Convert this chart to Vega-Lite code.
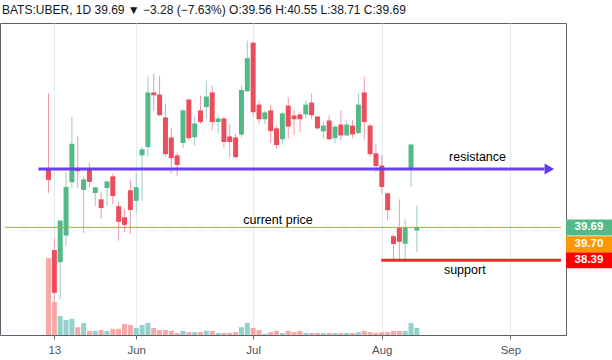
{
  "$schema": "https://vega.github.io/schema/vega-lite/v6.json",
  "width": 566,
  "height": 312,
  "autosize": {"type": "none"},
  "padding": {"left": 0, "top": 23, "right": 46, "bottom": 25},
  "background": "#ffffff",
  "title": {
    "text": "BATS:UBER, 1D  39.69 ▼ −3.28 (−7.63%)  O:39.56  H:40.55  L:38.71  C:39.69",
    "anchor": "start",
    "frame": "group",
    "fontSize": 12,
    "font": "Liberation Sans",
    "fontWeight": "normal",
    "color": "#131722",
    "offset": 6,
    "dx": 2,
    "dy": 12,
    "baseline": "bottom"
  },
  "config": {
    "view": {"stroke": "#5d606b", "strokeWidth": 1},
    "text": {"font": "Liberation Sans"}
  },
  "datasets": {
    "candles": [
      {"date": "2019-05-10", "i": 0, "open": 42.00, "high": 45.00, "low": 41.06, "close": 41.57, "volume": 186},
      {"date": "2019-05-13", "i": 1, "open": 38.79, "high": 39.24, "low": 36.08, "close": 37.10, "volume": 80},
      {"date": "2019-05-14", "i": 2, "open": 38.31, "high": 39.96, "low": 36.85, "close": 39.96, "volume": 46},
      {"date": "2019-05-15", "i": 3, "open": 39.37, "high": 41.88, "low": 38.95, "close": 41.29, "volume": 36},
      {"date": "2019-05-16", "i": 4, "open": 41.48, "high": 44.06, "low": 41.25, "close": 43.00, "volume": 39},
      {"date": "2019-05-17", "i": 5, "open": 41.98, "high": 43.29, "low": 41.27, "close": 41.91, "volume": 19},
      {"date": "2019-05-20", "i": 6, "open": 41.17, "high": 41.71, "low": 39.47, "close": 41.59, "volume": 29},
      {"date": "2019-05-21", "i": 7, "open": 41.97, "high": 42.26, "low": 41.29, "close": 41.49, "volume": 10},
      {"date": "2019-05-22", "i": 8, "open": 41.05, "high": 41.28, "low": 40.53, "close": 41.28, "volume": 10},
      {"date": "2019-05-23", "i": 9, "open": 40.80, "high": 41.10, "low": 40.03, "close": 40.46, "volume": 12},
      {"date": "2019-05-24", "i": 10, "open": 41.25, "high": 41.51, "low": 40.54, "close": 41.51, "volume": 10},
      {"date": "2019-05-28", "i": 11, "open": 41.71, "high": 41.82, "low": 40.62, "close": 40.93, "volume": 15},
      {"date": "2019-05-29", "i": 12, "open": 40.53, "high": 40.71, "low": 39.16, "close": 39.91, "volume": 15},
      {"date": "2019-05-30", "i": 13, "open": 40.09, "high": 40.41, "low": 39.51, "close": 39.79, "volume": 27},
      {"date": "2019-05-31", "i": 14, "open": 41.16, "high": 41.59, "low": 39.43, "close": 40.38, "volume": 24},
      {"date": "2019-06-03", "i": 15, "open": 40.74, "high": 41.87, "low": 40.26, "close": 41.28, "volume": 17},
      {"date": "2019-06-04", "i": 16, "open": 42.54, "high": 42.89, "low": 40.74, "close": 42.78, "volume": 24},
      {"date": "2019-06-05", "i": 17, "open": 42.87, "high": 45.66, "low": 42.50, "close": 45.03, "volume": 29},
      {"date": "2019-06-06", "i": 18, "open": 45.03, "high": 45.78, "low": 44.29, "close": 44.92, "volume": 17},
      {"date": "2019-06-07", "i": 19, "open": 44.95, "high": 45.70, "low": 44.10, "close": 44.13, "volume": 12},
      {"date": "2019-06-10", "i": 20, "open": 44.04, "high": 44.59, "low": 42.50, "close": 42.59, "volume": 12},
      {"date": "2019-06-11", "i": 21, "open": 43.25, "high": 43.64, "low": 41.84, "close": 42.43, "volume": 10},
      {"date": "2019-06-12", "i": 22, "open": 42.54, "high": 42.66, "low": 41.72, "close": 42.16, "volume": 5},
      {"date": "2019-06-13", "i": 23, "open": 43.03, "high": 44.36, "low": 42.83, "close": 44.32, "volume": 10},
      {"date": "2019-06-14", "i": 24, "open": 44.75, "high": 44.80, "low": 43.13, "close": 43.22, "volume": 7},
      {"date": "2019-06-17", "i": 25, "open": 43.26, "high": 44.08, "low": 42.93, "close": 43.80, "volume": 7},
      {"date": "2019-06-18", "i": 26, "open": 44.32, "high": 44.91, "low": 43.78, "close": 43.86, "volume": 7},
      {"date": "2019-06-19", "i": 27, "open": 44.45, "high": 45.50, "low": 43.99, "close": 44.87, "volume": 10},
      {"date": "2019-06-20", "i": 28, "open": 45.03, "high": 45.30, "low": 43.53, "close": 43.86, "volume": 10},
      {"date": "2019-06-21", "i": 29, "open": 43.86, "high": 44.16, "low": 43.42, "close": 44.00, "volume": 5},
      {"date": "2019-06-24", "i": 30, "open": 44.00, "high": 44.08, "low": 42.84, "close": 43.07, "volume": 5},
      {"date": "2019-06-25", "i": 31, "open": 43.29, "high": 43.79, "low": 42.47, "close": 43.07, "volume": 5},
      {"date": "2019-06-26", "i": 32, "open": 43.25, "high": 43.39, "low": 42.41, "close": 42.47, "volume": 7},
      {"date": "2019-06-27", "i": 33, "open": 43.36, "high": 45.30, "low": 43.24, "close": 45.13, "volume": 19},
      {"date": "2019-06-28", "i": 34, "open": 45.08, "high": 47.08, "low": 45.05, "close": 46.39, "volume": 29},
      {"date": "2019-07-01", "i": 35, "open": 47.00, "high": 47.04, "low": 44.08, "close": 44.25, "volume": 17},
      {"date": "2019-07-02", "i": 36, "open": 44.55, "high": 44.71, "low": 43.76, "close": 43.97, "volume": 12},
      {"date": "2019-07-03", "i": 37, "open": 43.97, "high": 44.32, "low": 43.79, "close": 44.24, "volume": 3},
      {"date": "2019-07-05", "i": 38, "open": 44.32, "high": 44.55, "low": 43.03, "close": 43.50, "volume": 7},
      {"date": "2019-07-08", "i": 39, "open": 43.61, "high": 43.71, "low": 42.79, "close": 42.95, "volume": 10},
      {"date": "2019-07-09", "i": 40, "open": 43.18, "high": 44.25, "low": 43.00, "close": 44.20, "volume": 5},
      {"date": "2019-07-10", "i": 41, "open": 44.51, "high": 44.84, "low": 43.20, "close": 43.68, "volume": 10},
      {"date": "2019-07-11", "i": 42, "open": 44.12, "high": 44.32, "low": 43.34, "close": 43.97, "volume": 7},
      {"date": "2019-07-12", "i": 43, "open": 44.16, "high": 44.24, "low": 43.45, "close": 43.97, "volume": 10},
      {"date": "2019-07-15", "i": 44, "open": 44.16, "high": 44.71, "low": 43.99, "close": 44.55, "volume": 5},
      {"date": "2019-07-16", "i": 45, "open": 44.63, "high": 45.00, "low": 43.97, "close": 44.13, "volume": 5},
      {"date": "2019-07-17", "i": 46, "open": 44.08, "high": 44.10, "low": 43.55, "close": 43.61, "volume": 5},
      {"date": "2019-07-18", "i": 47, "open": 43.49, "high": 43.89, "low": 43.20, "close": 43.72, "volume": 5},
      {"date": "2019-07-19", "i": 48, "open": 43.92, "high": 44.12, "low": 43.15, "close": 43.18, "volume": 5},
      {"date": "2019-07-22", "i": 49, "open": 43.22, "high": 43.72, "low": 43.03, "close": 43.68, "volume": 5},
      {"date": "2019-07-23", "i": 50, "open": 43.76, "high": 44.32, "low": 43.13, "close": 43.33, "volume": 5},
      {"date": "2019-07-24", "i": 51, "open": 43.33, "high": 43.89, "low": 43.30, "close": 43.76, "volume": 5},
      {"date": "2019-07-25", "i": 52, "open": 43.72, "high": 43.95, "low": 43.22, "close": 43.37, "volume": 5},
      {"date": "2019-07-26", "i": 53, "open": 43.42, "high": 45.00, "low": 43.40, "close": 44.55, "volume": 7},
      {"date": "2019-07-29", "i": 54, "open": 45.03, "high": 45.66, "low": 43.13, "close": 43.86, "volume": 10},
      {"date": "2019-07-30", "i": 55, "open": 43.72, "high": 43.78, "low": 42.50, "close": 42.59, "volume": 7},
      {"date": "2019-07-31", "i": 56, "open": 42.62, "high": 42.97, "low": 41.88, "close": 42.12, "volume": 5},
      {"date": "2019-08-01", "i": 57, "open": 42.14, "high": 42.54, "low": 41.01, "close": 41.29, "volume": 7},
      {"date": "2019-08-02", "i": 58, "open": 41.04, "high": 41.06, "low": 39.97, "close": 40.37, "volume": 7},
      {"date": "2019-08-05", "i": 59, "open": 39.34, "high": 39.42, "low": 38.39, "close": 39.03, "volume": 10},
      {"date": "2019-08-06", "i": 60, "open": 39.68, "high": 40.80, "low": 38.37, "close": 39.12, "volume": 10},
      {"date": "2019-08-07", "i": 61, "open": 39.04, "high": 40.01, "low": 38.37, "close": 39.68, "volume": 10},
      {"date": "2019-08-08", "i": 62, "open": 42.03, "high": 43.00, "low": 41.29, "close": 42.97, "volume": 29},
      {"date": "2019-08-09", "i": 63, "open": 39.56, "high": 40.55, "low": 38.71, "close": 39.69, "volume": 17}
    ],
    "lines": [
      {"name": "current", "i": -7.44, "i2": 87.65, "price": 39.69},
      {"name": "resistance", "i": -1.73, "i2": 84.8, "price": 42.0},
      {"name": "support", "i": 56.9, "i2": 87.65, "price": 38.39}
    ],
    "notes": [
      {"i": 73.37, "price": 42.30, "text": "resistance"},
      {"i": 39.26, "price": 39.81, "text": "current price"},
      {"i": 71.19, "price": 37.83, "text": "support"}
    ],
    "tags": [
      {"kind": "last", "price": 39.69, "label": "39.69"},
      {"kind": "prev", "price": 39.70, "label": "39.70"},
      {"kind": "support", "price": 38.39, "label": "38.39"}
    ]
  },
  "data": {"name": "candles"},
  "encoding": {
    "x": {
      "field": "i",
      "type": "quantitative",
      "scale": {"domain": [-7.44, 87.65], "nice": false, "zero": false},
      "axis": {
        "values": [1, 15, 35, 57, 79],
        "labelExpr": "datum.value == 1 ? '13' : datum.value == 15 ? 'Jun' : datum.value == 35 ? 'Jul' : datum.value == 57 ? 'Aug' : 'Sep'",
        "title": null,
        "grid": true,
        "gridColor": "#e1ecf2",
        "domain": false,
        "ticks": true,
        "tickColor": "#5d606b",
        "tickSize": 4,
        "labelColor": "#4c525e",
        "labelFont": "Liberation Sans",
        "labelFontSize": 11.5,
        "labelPadding": 5,
        "labelFlush": false,
        "labelOverlap": false,
        "labelBound": false
      }
    }
  },
  "layer": [
    {
      "mark": {"type": "bar", "size": 5, "opacity": 1},
      "encoding": {
        "y": {"field": "volume", "type": "quantitative", "scale": {"domain": [0, 754], "nice": false, "zero": true}, "axis": null},
        "color": {"condition": {"test": "datum.close >= datum.open", "value": "#93d2cc"}, "value": "#f7a9a7"}
      }
    },
    {
      "layer": [
        {
          "mark": {"type": "rule", "strokeWidth": 1},
          "encoding": {
            "y": {
              "field": "low",
              "type": "quantitative",
              "scale": {"domain": [35.43, 47.78], "nice": false, "zero": false},
              "axis": {
                "orient": "right",
                "values": [36, 38, 40, 42, 44, 46],
                "format": ".2f",
                "title": null,
                "grid": true,
                "gridColor": "#e1ecf2",
                "domain": false,
                "tickColor": "#5d606b",
                "tickSize": 4,
                "labelPadding": 3,
                "labelColor": "#4c525e",
                "labelFont": "Liberation Sans",
                "labelFontSize": 11.5
              }
            },
            "y2": {"field": "high"},
            "color": {"condition": {"test": "datum.close >= datum.open", "value": "#9ccac6"}, "value": "#f29aa6"}
          }
        },
        {
          "mark": {"type": "bar", "size": 5},
          "encoding": {
            "y": {"field": "open", "type": "quantitative", "scale": {"domain": [35.43, 47.78], "nice": false, "zero": false}, "axis": null},
            "y2": {"field": "close"},
            "color": {"condition": {"test": "datum.close >= datum.open", "value": "#53b987"}, "value": "#eb4d5c"}
          }
        },
        {
          "data": {"name": "lines"},
          "transform": [{"filter": "datum.name == 'current'"}],
          "mark": {"type": "rule", "strokeWidth": 1, "color": "#53b987", "strokeDash": [2, 2]},
          "encoding": {
            "x2": {"field": "i2"},
            "y": {"field": "price", "type": "quantitative", "scale": {"domain": [35.43, 47.78], "nice": false, "zero": false}, "axis": null}
          }
        },
        {
          "data": {"name": "lines"},
          "transform": [{"filter": "datum.name == 'current'"}],
          "mark": {"type": "rule", "strokeWidth": 1, "color": "#ff9800", "strokeDash": [2, 2], "strokeDashOffset": 2},
          "encoding": {
            "x2": {"field": "i2"},
            "y": {"field": "price", "type": "quantitative", "scale": {"domain": [35.43, 47.78], "nice": false, "zero": false}, "axis": null}
          }
        },
        {
          "data": {"name": "lines"},
          "transform": [{"filter": "datum.name == 'resistance'"}],
          "mark": {"type": "rule", "strokeWidth": 3, "color": "#6236f5", "opacity": 0.95},
          "encoding": {
            "x2": {"field": "i2"},
            "y": {"field": "price", "type": "quantitative", "scale": {"domain": [35.43, 47.78], "nice": false, "zero": false}, "axis": null}
          }
        },
        {
          "data": {"name": "lines"},
          "transform": [{"filter": "datum.name == 'resistance'"}],
          "mark": {"type": "point", "shape": "triangle-right", "filled": true, "size": 120, "color": "#6236f5", "opacity": 1},
          "encoding": {
            "x": {"field": "i2", "type": "quantitative"},
            "y": {"field": "price", "type": "quantitative", "scale": {"domain": [35.43, 47.78], "nice": false, "zero": false}, "axis": null},
            "xOffset": {"value": 5}
          }
        },
        {
          "data": {"name": "lines"},
          "transform": [{"filter": "datum.name == 'support'"}],
          "mark": {"type": "rule", "strokeWidth": 3, "color": "#ff1a1a", "opacity": 0.95},
          "encoding": {
            "x2": {"field": "i2"},
            "y": {"field": "price", "type": "quantitative", "scale": {"domain": [35.43, 47.78], "nice": false, "zero": false}, "axis": null}
          }
        },
        {
          "data": {"name": "notes"},
          "mark": {"type": "text", "align": "center", "baseline": "alphabetic", "fontSize": 12.5, "font": "Liberation Sans", "color": "#000000"},
          "encoding": {
            "y": {"field": "price", "type": "quantitative", "scale": {"domain": [35.43, 47.78], "nice": false, "zero": false}, "axis": null},
            "text": {"field": "text"}
          }
        },
        {
          "data": {"name": "tags"},
          "transform": [{"filter": "datum.kind != 'prev'"}],
          "mark": {"type": "point", "shape": "M0,-0.5H2.875V0.5H0Z", "filled": true, "size": 1024, "opacity": 1, "strokeWidth": 0},
          "encoding": {
            "x": {"value": "width"},
            "y": {"field": "price", "type": "quantitative", "scale": {"domain": [35.43, 47.78], "nice": false, "zero": false}, "axis": null},
            "color": {"field": "kind", "type": "nominal", "scale": {"domain": ["last", "prev", "support"], "range": ["#53b987", "#ff9800", "#ff0000"]}, "legend": null}
          }
        },
        {
          "data": {"name": "tags"},
          "transform": [{"filter": "datum.kind == 'prev'"}],
          "mark": {"type": "point", "shape": "M0,-0.5H2.875V0.5H0Z", "filled": true, "size": 1024, "opacity": 1, "strokeWidth": 0, "yOffset": 17},
          "encoding": {
            "x": {"value": "width"},
            "y": {"field": "price", "type": "quantitative", "scale": {"domain": [35.43, 47.78], "nice": false, "zero": false}, "axis": null},
            "color": {"field": "kind", "type": "nominal", "scale": {"domain": ["last", "prev", "support"], "range": ["#53b987", "#ff9800", "#ff0000"]}, "legend": null}
          }
        },
        {
          "data": {"name": "tags"},
          "transform": [{"filter": "datum.kind != 'prev'"}],
          "mark": {"type": "text", "align": "center", "baseline": "middle", "dx": 23, "fontSize": 11.5, "fontWeight": "bold", "font": "Liberation Sans", "color": "#ffffff"},
          "encoding": {
            "x": {"value": "width"},
            "y": {"field": "price", "type": "quantitative", "scale": {"domain": [35.43, 47.78], "nice": false, "zero": false}, "axis": null},
            "text": {"field": "label"}
          }
        },
        {
          "data": {"name": "tags"},
          "transform": [{"filter": "datum.kind == 'prev'"}],
          "mark": {"type": "text", "align": "center", "baseline": "middle", "dx": 23, "dy": 17, "fontSize": 11.5, "fontWeight": "bold", "font": "Liberation Sans", "color": "#ffffff"},
          "encoding": {
            "x": {"value": "width"},
            "y": {"field": "price", "type": "quantitative", "scale": {"domain": [35.43, 47.78], "nice": false, "zero": false}, "axis": null},
            "text": {"field": "label"}
          }
        }
      ]
    }
  ],
  "resolve": {"scale": {"y": "independent"}}
}
